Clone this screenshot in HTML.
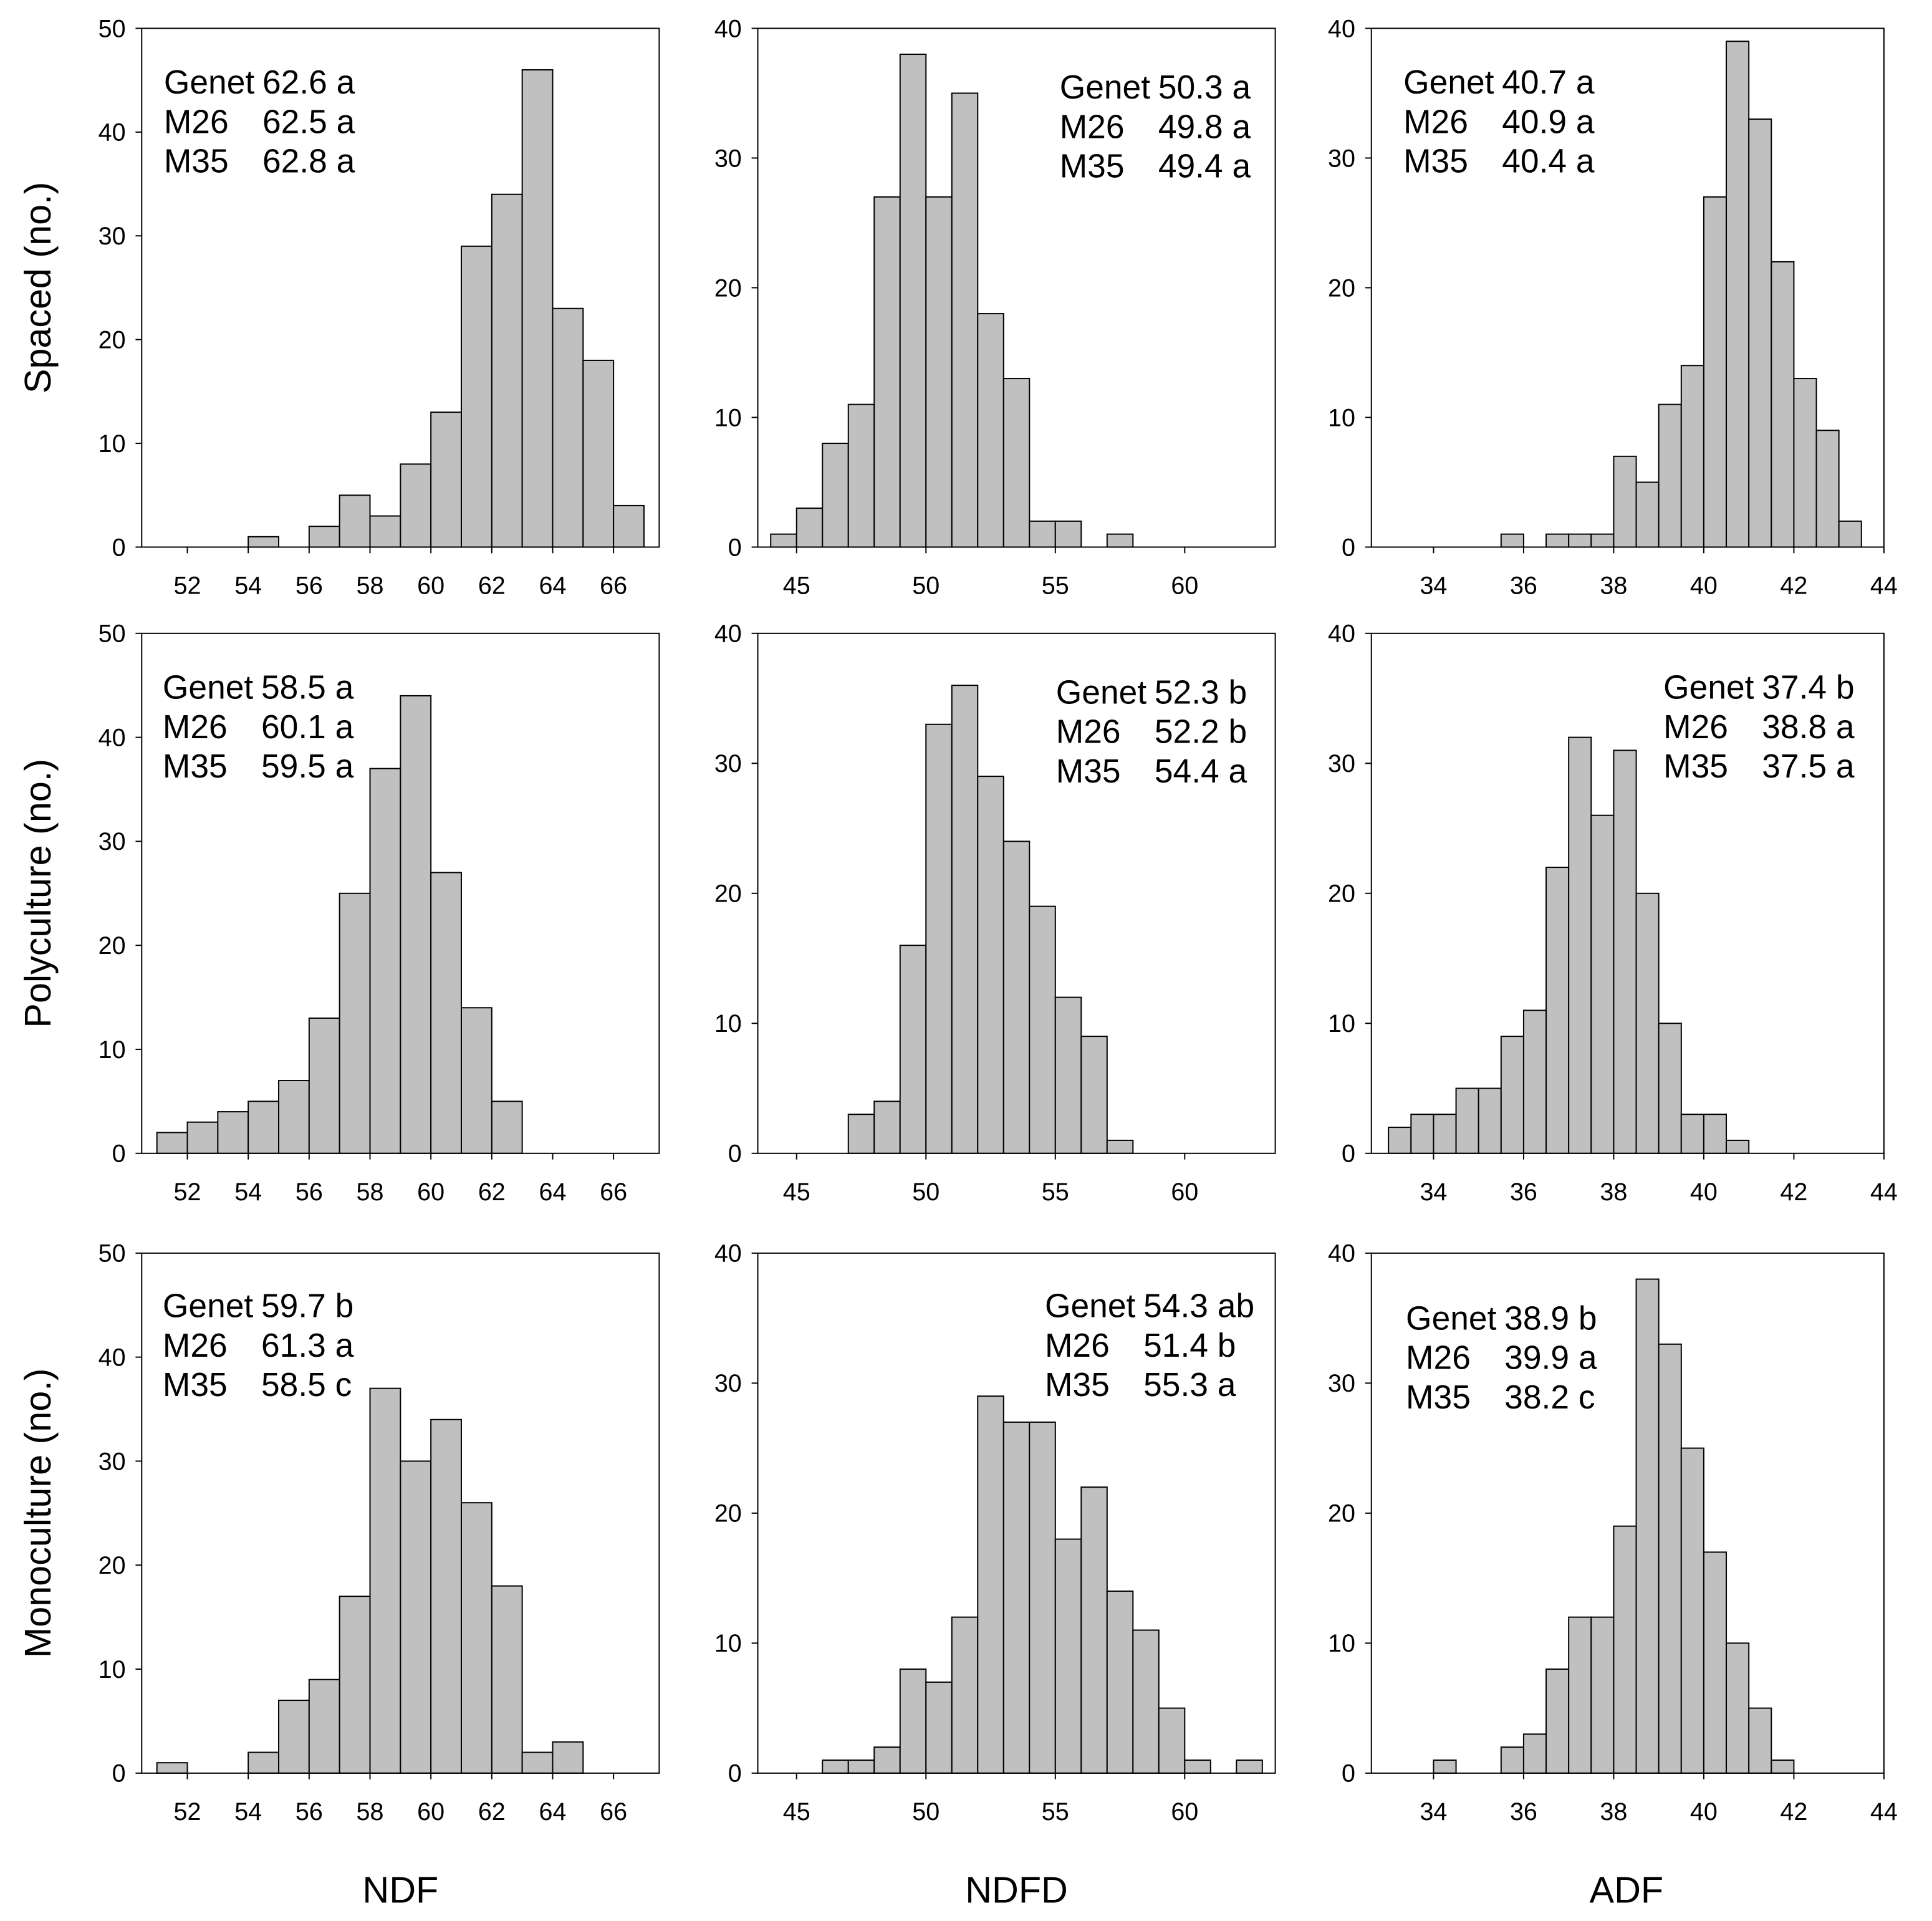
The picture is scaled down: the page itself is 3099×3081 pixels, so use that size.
<!DOCTYPE html>
<html><head><meta charset="utf-8"><style>
html,body{margin:0;padding:0;background:#fff}
svg{display:block}
text{font-family:"Liberation Sans",Arial,sans-serif;fill:#000}
</style></head><body>
<svg id="chart" width="3099" height="3081" viewBox="0 0 1568 1559" preserveAspectRatio="none" xmlns="http://www.w3.org/2000/svg"></svg>
<script>
// NDF bins (width 1), start values
const ndfBins=[51,52,53,54,55,56,57,58,59,60,61,62,63,64,65,66];
const ndfSpaced=[0,0,0,1,0,2,5,3,8,13,29,34,46,23,18,4];
const ndfPoly=[2,3,4,5,7,13,25,37,44,27,14,5,0,0,0,0];
const ndfMono=[1,0,0,2,7,9,17,37,30,34,26,18,2,3,0,0];
// NDFD bins (width 1)
const ndfdBins=[44,45,46,47,48,49,50,51,52,53,54,55,56,57,58,59,60,61,62];
const ndfdSpaced=[1,3,8,11,27,38,27,35,18,13,2,2,0,1,0,0,0,0,0];
const ndfdPoly=[0,0,0,3,4,16,33,36,29,24,19,12,9,1,0,0,0,0,0];
const ndfdMono=[0,0,1,1,2,8,7,12,29,27,27,18,22,14,11,5,1,0,1];
// ADF bins (width 0.5)
const adfBins=[33,33.5,34,34.5,35,35.5,36,36.5,37,37.5,38,38.5,39,39.5,40,40.5,41,41.5,42,42.5,43];
const adfSpaced=[0,0,0,0,0,1,0,1,1,1,7,5,11,14,27,39,33,22,13,9,2];
const adfPoly=[2,3,3,5,5,9,11,22,32,26,31,20,10,3,3,1,0,0,0,0,0];
const adfMono=[0,0,1,0,0,2,3,8,12,12,19,38,33,25,17,10,5,1,0,0,0];
const ndfTicks=[52,54,56,58,60,62,64,66];
const ndfdTicks=[45,50,55,60];
const adfTicks=[34,36,38,40,42,44];
const rowLabels=["Spaced (no.)","Polyculture (no.)","Monoculture (no.)"];
const colLabels=["NDF","NDFD","ADF"];
const annots=[
 [["Genet","62.6 a"],["M26","62.5 a"],["M35","62.8 a"]],
 [["Genet","50.3 a"],["M26","49.8 a"],["M35","49.4 a"]],
 [["Genet","40.7 a"],["M26","40.9 a"],["M35","40.4 a"]],
 [["Genet","58.5 a"],["M26","60.1 a"],["M35","59.5 a"]],
 [["Genet","52.3 b"],["M26","52.2 b"],["M35","54.4 a"]],
 [["Genet","37.4 b"],["M26","38.8 a"],["M35","37.5 a"]],
 [["Genet","59.7 b"],["M26","61.3 a"],["M35","58.5 c"]],
 [["Genet","54.3 ab"],["M26","51.4 b"],["M35","55.3 a"]],
 [["Genet","38.9 b"],["M26","39.9 a"],["M35","38.2 c"]]
];
const S="http://www.w3.org/2000/svg";
const svg=document.getElementById('chart');
function el(t,a,p){const e=document.createElementNS(S,t);for(const k in a)e.setAttribute(k,a[k]);(p||svg).appendChild(e);return e;}
const cols=[
 {x0:115,x1:535,min:50.5,max:67.5,bw:1,bins:ndfBins,ticks:ndfTicks,ymax:50,ystep:10},
 {x0:615,x1:1035,min:43.5,max:63.5,bw:1,bins:ndfdBins,ticks:ndfdTicks,ymax:40,ystep:10},
 {x0:1113,x1:1529,min:32.62,max:44,bw:0.5,bins:adfBins,ticks:adfTicks,ymax:40,ystep:10}
];
const rows=[{y0:23,y1:444},{y0:514,y1:936},{y0:1017,y1:1439}];
const series=[[ndfSpaced,ndfdSpaced,adfSpaced],[ndfPoly,ndfdPoly,adfPoly],[ndfMono,ndfdMono,adfMono]];
const annotPos=[[[133,76],[860,80],[1139,76]],[[132,567],[857,571],[1350,567]],[[132,1069],[848,1069],[1141,1079]]];
rows.forEach((r,ri)=>{
 cols.forEach((c,ci)=>{
  const g=el('g',{});
  
  
  const xs=v=>c.x0+(v-c.min)/(c.max-c.min)*(c.x1-c.x0);
  const ys=v=>r.y1-v/c.ymax*(r.y1-r.y0);
  const vals=series[ri][ci];
  c.bins.forEach((b,i)=>{
   if(!vals[i])return;
   const rc=el('rect',{x:xs(b),y:ys(vals[i]),width:xs(b+c.bw)-xs(b),height:r.y1-ys(vals[i]),fill:'#c0c0c0',stroke:'#000','stroke-width':1},g);
   
   
  });
  const fr=el('rect',{x:c.x0,y:r.y0,width:c.x1-c.x0,height:r.y1-r.y0,fill:'none',stroke:'#000','stroke-width':1},g);
  
  
  for(let v=0;v<=c.ymax;v+=c.ystep){
   const y=ys(v);
   el('line',{x1:c.x0-5,x2:c.x0,y1:y,y2:y,stroke:'#000'},g);
   const t=el('text',{x:c.x0-13,y:y+7,'text-anchor':'end','font-size':20},g);
   t.textContent=v;
   
   
  }
  c.ticks.forEach(v=>{
   const x=xs(v);
   el('line',{x1:x,x2:x,y1:r.y1,y2:r.y1+5,stroke:'#000'},g);
   const t=el('text',{x:x,y:r.y1+38,'text-anchor':'middle','font-size':20},g);
   t.textContent=v;
   
   
  });
  const [ax,ay]=annotPos[ri][ci];
  annots[ri*3+ci].forEach((ln,li)=>{
   const t1=el('text',{x:ax,y:ay+li*32,'font-size':27},g);
   t1.textContent=ln[0];
   
   
   const t2=el('text',{x:ax+80,y:ay+li*32,'font-size':27},g);
   t2.textContent=ln[1];
   
   
  });
 });
});
rows.forEach((r,ri)=>{
 const cy=(r.y0+r.y1)/2;
 const t=el('text',{x:0,y:0,'text-anchor':'middle','font-size':30,transform:`translate(41,${cy}) rotate(-90)`});
 t.textContent=rowLabels[ri];
 
 
});
[325,825,1320].forEach((x,i)=>{
 const t=el('text',{x:x,y:1544,'text-anchor':'middle','font-size':30});
 t.textContent=colLabels[i];
 
 
});
</script>
</body></html>
